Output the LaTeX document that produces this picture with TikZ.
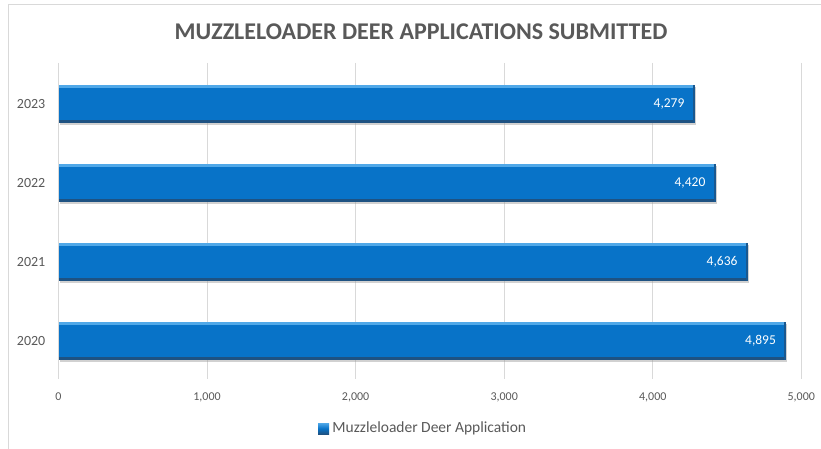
\documentclass[tikz,border=0pt]{standalone}
\usepackage{fontspec}
\setmainfont{Carlito}
\usepackage{xcolor}
\usepackage{tikz}
\usetikzlibrary{positioning, shadows}

\definecolor{barblue}{RGB}{8,115,200}
\definecolor{barlight}{RGB}{80,168,232}
\definecolor{bardark}{RGB}{30,82,130}
\definecolor{txtgray}{RGB}{89,89,89}
\definecolor{gridgray}{RGB}{217,217,217}

\begin{document}
\begin{tikzpicture}[x=1pt, y=-1pt,
        bar/.style={rectangle, fill=barblue, minimum height=38pt, inner sep=0, anchor=west,
            drop shadow={shadow xshift=1.5pt, shadow yshift=-2pt, fill=black!40, opacity=0.45}},
        ylab/.style={inner sep=0, text=txtgray, font=\fontsize{14}{16}\selectfont},
        vlab/.style={inner sep=0, text=white, font=\fontsize{13.5}{15}\selectfont},
        tick/.style={inner sep=0, text=txtgray, font=\fontsize{12}{14}\selectfont},
        grid/.style={draw=gridgray, line width=1pt}]
        \useasboundingbox[fill=white] (0,0) rectangle (821,449);
        \draw[gridgray, line width=1pt] (8,449) -- (8,5) -- (821,5);

        % Title
        \node (title) at (421,32) [text=txtgray, font=\fontsize{24}{28}\selectfont\bfseries] {MUZZLELOADER DEER APPLICATIONS SUBMITTED};

        % Grid and ticks
        \foreach \v/\lab in {0/0, 1/{1,000}, 2/{2,000}, 3/{3,000}, 4/{4,000}, 5/{5,000}} {
            \draw[grid] (58.5+\v*148.56,63) -- (58.5+\v*148.56,379);
            \node (tick\v) [tick] at (58.5+\v*148.56,397) {\lab};
        }

        % Bars
        \foreach \yr/\val/\lab/\yc in {2023/4279/{4,279}/104, 2022/4420/{4,420}/183, 2021/4636/{4,636}/262, 2020/4895/{4,895}/341} {
            \node (bar\yr) [bar, minimum width=\val*0.14856pt] at (58.5,\yc) {};
            \fill[barlight] (bar\yr.north west) rectangle ([yshift=-3pt]bar\yr.north east);
            \fill[bardark] ([yshift=3pt]bar\yr.south west) rectangle (bar\yr.south east);
            \fill[bardark!80!barblue] ([xshift=-2pt]bar\yr.north east) rectangle (bar\yr.south east);
            \node (year\yr) [ylab, left=13pt of bar\yr] {\yr};
            \node (val\yr) [vlab, left=10pt of bar\yr.east] {\lab};
        }

        % Legend
        \node (legkey) at (323.5,428.5) [rectangle, minimum size=11pt, inner sep=0, top color=barlight, bottom color=bardark, middle color=barblue] {};
        \node (legtext) [ylab, font=\fontsize{15.5}{18}\selectfont, right=3pt of legkey] {Muzzleloader Deer Application};
    \end{tikzpicture}
\end{document}
